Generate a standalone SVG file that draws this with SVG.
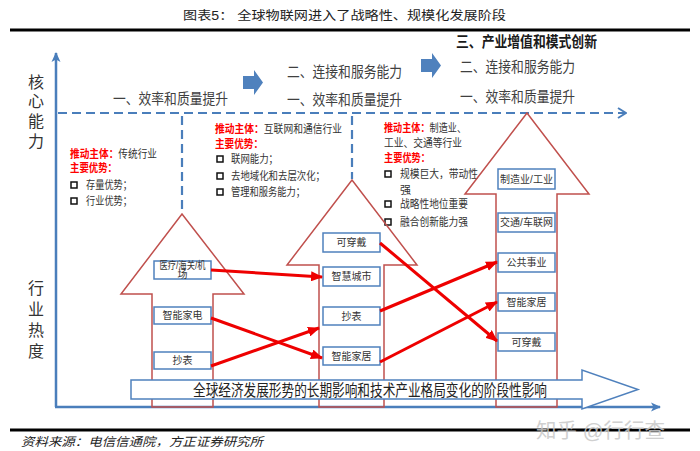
<svg xmlns="http://www.w3.org/2000/svg" width="700" height="451" viewBox="0 0 700 451">
<defs>
<style>
text{font-family:"Liberation Sans","Noto Sans CJK SC",sans-serif;}
.stage{font-size:15px;fill:#404040;}
.ax{font-size:16px;fill:#333;text-anchor:middle;}
.t{font-size:11px;fill:#333;}
.r{font-size:11px;fill:#ff0000;font-weight:bold;}
.sq{fill:none;stroke:#111;stroke-width:1.5;}
.up{fill:none;stroke:#c0504d;stroke-width:1.5;}
.box rect{fill:#fff;stroke:#4f81bd;stroke-width:1.5;}
.box text{font-size:10px;fill:#333;text-anchor:middle;}
.dash{fill:none;stroke:#4a7ebb;stroke-width:2.2;stroke-dasharray:9 5;}
.axis{fill:none;stroke:#4a7ebb;stroke-width:2.5;}
.conn{stroke:#ee0000;stroke-width:3;fill:none;marker-end:url(#rh);}
.blk{fill:#4f81bd;}
</style>
<marker id="rh" viewBox="0 0 12 10" refX="11" refY="5" markerWidth="12" markerHeight="10" markerUnits="userSpaceOnUse" orient="auto">
<path d="M0,0 L12,5 L0,10 z" fill="#ee0000"/>
</marker>
<marker id="ah" viewBox="0 0 10 10" refX="9" refY="5" markerWidth="10" markerHeight="10" markerUnits="userSpaceOnUse" orient="auto">
<path d="M0,0.5 L10,5 L0,9.5 L2.5,5 z" fill="#4a7ebb"/>
</marker>
<marker id="dh" viewBox="0 0 10 12" refX="9" refY="6" markerWidth="10" markerHeight="12" markerUnits="userSpaceOnUse" orient="auto">
<path d="M1,1 L9,6 L1,11" fill="none" stroke="#4a7ebb" stroke-width="2"/>
</marker>
</defs>
<rect width="700" height="451" fill="#fff"/>

<!-- title -->
<text x="183" y="20" font-size="12.5" fill="#222" textLength="323" lengthAdjust="spacingAndGlyphs">图表5：  全球物联网进入了战略性、规模化发展阶段</text>
<line x1="10" y1="30" x2="690" y2="30" stroke="#000" stroke-width="3"/>

<!-- axes -->
<g id="axes">
<line class="axis" x1="56" y1="407" x2="56" y2="53" marker-end="url(#ah)"/>
<line class="axis" x1="55" y1="407" x2="660" y2="407" marker-end="url(#ah)"/>
<line class="dash" x1="58" y1="113" x2="626" y2="113" marker-end="url(#dh)"/>
<line class="dash" x1="182" y1="116" x2="182" y2="213"/>
<line class="dash" x1="352" y1="116" x2="352" y2="179"/>
</g>
<text class="ax" x="36" y="88">核</text>
<text class="ax" x="36" y="107">心</text>
<text class="ax" x="36" y="127">能</text>
<text class="ax" x="36" y="147">力</text>
<text class="ax" x="36" y="294">行</text>
<text class="ax" x="36" y="315">业</text>
<text class="ax" x="36" y="336">热</text>
<text class="ax" x="36" y="357">度</text>

<!-- stage labels -->
<g id="stages">
<text class="stage" x="113" y="104" textLength="115" lengthAdjust="spacingAndGlyphs">一、效率和质量提升</text>
<path class="blk" d="M243,76 L254,76 L254,70 L263,82.5 L254,95 L254,89 L243,89 z"/>
<text class="stage" x="287" y="77" textLength="115" lengthAdjust="spacingAndGlyphs">二、连接和服务能力</text>
<text class="stage" x="287" y="105" textLength="115" lengthAdjust="spacingAndGlyphs">一、效率和质量提升</text>
<path class="blk" d="M421,59 L432,59 L432,53 L441,65.5 L432,78 L432,72 L421,72 z"/>
<text x="456" y="47" font-size="15" font-weight="bold" fill="#1a1a1a" textLength="141" lengthAdjust="spacingAndGlyphs">三、产业增值和模式创新</text>
<text class="stage" x="460" y="72" textLength="115" lengthAdjust="spacingAndGlyphs">二、连接和服务能力</text>
<text class="stage" x="460" y="102" textLength="115" lengthAdjust="spacingAndGlyphs">一、效率和质量提升</text>
</g>

<!-- text blocks -->
<g id="info1">
<text class="t" x="70" y="158" textLength="87" lengthAdjust="spacingAndGlyphs"><tspan class="r">推动主体：</tspan>传统行业</text>
<text class="r" x="70" y="172" textLength="47" lengthAdjust="spacingAndGlyphs">主要优势：</text>
<rect class="sq" x="71" y="182" width="6" height="6"/>
<text class="t" x="86" y="189" textLength="46" lengthAdjust="spacingAndGlyphs">存量优势；</text>
<rect class="sq" x="71" y="198" width="6" height="6"/>
<text class="t" x="86" y="205" textLength="46" lengthAdjust="spacingAndGlyphs">行业优势；</text>
</g>
<g id="info2">
<text class="t" x="215" y="133" textLength="127" lengthAdjust="spacingAndGlyphs"><tspan class="r">推动主体：</tspan>互联网和通信行业</text>
<text class="r" x="215" y="148" textLength="48" lengthAdjust="spacingAndGlyphs">主要优势：</text>
<rect class="sq" x="217" y="156" width="6" height="6"/>
<text class="t" x="231" y="163" textLength="47" lengthAdjust="spacingAndGlyphs">联网能力；</text>
<rect class="sq" x="217" y="173" width="6" height="6"/>
<text class="t" x="231" y="180" textLength="94" lengthAdjust="spacingAndGlyphs">去地域化和去层次化；</text>
<rect class="sq" x="217" y="189" width="6" height="6"/>
<text class="t" x="231" y="196" textLength="74" lengthAdjust="spacingAndGlyphs">管理和服务能力；</text>
</g>
<g id="info3">
<text class="t" x="384" y="132" textLength="82" lengthAdjust="spacingAndGlyphs"><tspan class="r">推动主体：</tspan>制造业、</text>
<text class="t" x="384" y="147" textLength="78" lengthAdjust="spacingAndGlyphs">工业、交通等行业</text>
<text class="r" x="384" y="162" textLength="46" lengthAdjust="spacingAndGlyphs">主要优势：</text>
<rect class="sq" x="385" y="171" width="6" height="6"/>
<text class="t" x="400" y="178" textLength="78" lengthAdjust="spacingAndGlyphs">规模巨大，带动性</text>
<text class="t" x="400" y="194">强</text>
<rect class="sq" x="385" y="201" width="6" height="6"/>
<text class="t" x="400" y="208" textLength="68" lengthAdjust="spacingAndGlyphs">战略性地位重要</text>
<rect class="sq" x="385" y="219" width="6" height="6"/>
<text class="t" x="400" y="226" textLength="68" lengthAdjust="spacingAndGlyphs">融合创新能力强</text>
</g>

<!-- upward arrows -->
<polygon id="arrow1" class="up" points="152,407 152,294 121,294 182,214 244,294 213,294 213,407"/>
<polygon id="arrow2" class="up" points="319,407 319,265 287,265 352,180 417,265 384,265 384,407"/>
<polygon id="arrow3" class="up" points="496,407 496,194 465,194 527,113 589,194 557,194 557,407"/>

<!-- boxes -->
<g id="b-l1" class="box"><rect x="154" y="261" width="57" height="18"/><text x="182.5" y="268.5" font-size="8.5" textLength="46" lengthAdjust="spacingAndGlyphs">医疗/海关/机</text><text x="182.5" y="277.5" font-size="8.5">场</text></g>
<g id="b-l2" class="box"><rect x="154" y="307" width="57" height="17"/><text x="182.5" y="319">智能家电</text></g>
<g id="b-l3" class="box"><rect x="154" y="352" width="57" height="17"/><text x="182.5" y="364">抄表</text></g>

<g id="b-m1" class="box"><rect x="323" y="233" width="57" height="19"/><text x="351.5" y="246">可穿戴</text></g>
<g id="b-m2" class="box"><rect x="323" y="267" width="57" height="19"/><text x="351.5" y="280">智慧城市</text></g>
<g id="b-m3" class="box"><rect x="323" y="307" width="57" height="18"/><text x="351.5" y="320">抄表</text></g>
<g id="b-m4" class="box"><rect x="323" y="347" width="57" height="18"/><text x="351.5" y="360">智能家居</text></g>

<g id="b-r1" class="box"><rect x="498" y="169" width="57" height="20"/><text x="526.5" y="183">制造业/工业</text></g>
<g id="b-r2" class="box"><rect x="498" y="213" width="57" height="19"/><text x="526.5" y="226">交通/车联网</text></g>
<g id="b-r3" class="box"><rect x="498" y="253" width="57" height="19"/><text x="526.5" y="266">公共事业</text></g>
<g id="b-r4" class="box"><rect x="498" y="293" width="57" height="18"/><text x="526.5" y="306">智能家居</text></g>
<g id="b-r5" class="box"><rect x="498" y="333" width="57" height="18"/><text x="526.5" y="346">可穿戴</text></g>

<!-- connectors -->
<g id="connectors">
<line class="conn" x1="211" y1="270" x2="322" y2="277"/>
<line class="conn" x1="211" y1="318" x2="322" y2="358"/>
<line class="conn" x1="211" y1="366" x2="319" y2="328"/>
<line class="conn" x1="380" y1="243" x2="497" y2="341"/>
<line class="conn" x1="380" y1="311" x2="497" y2="262"/>
<line class="conn" x1="380" y1="362" x2="497" y2="302"/>
</g>

<!-- bottom arrow -->
<g id="bottom">
<polygon points="131,380 582,380 582,370 638,389.5 582,409 582,399 131,399" fill="#fff" stroke="#4f81bd" stroke-width="1.5"/>
<text x="193" y="396" font-size="16" fill="#222" textLength="354" lengthAdjust="spacingAndGlyphs">全球经济发展形势的长期影响和技术产业格局变化的阶段性影响</text>
</g>

<!-- footer -->
<line x1="10" y1="430" x2="690" y2="430" stroke="#000" stroke-width="3"/>
<text x="536" y="438" font-size="20" fill="#c8c8c8" opacity="0.85" textLength="129" lengthAdjust="spacingAndGlyphs">知乎 @行行查</text>
<text x="21" y="446" font-size="12" font-style="italic" fill="#222" textLength="242" lengthAdjust="spacingAndGlyphs">资料来源：电信信通院，方正证券研究所</text>
</svg>
